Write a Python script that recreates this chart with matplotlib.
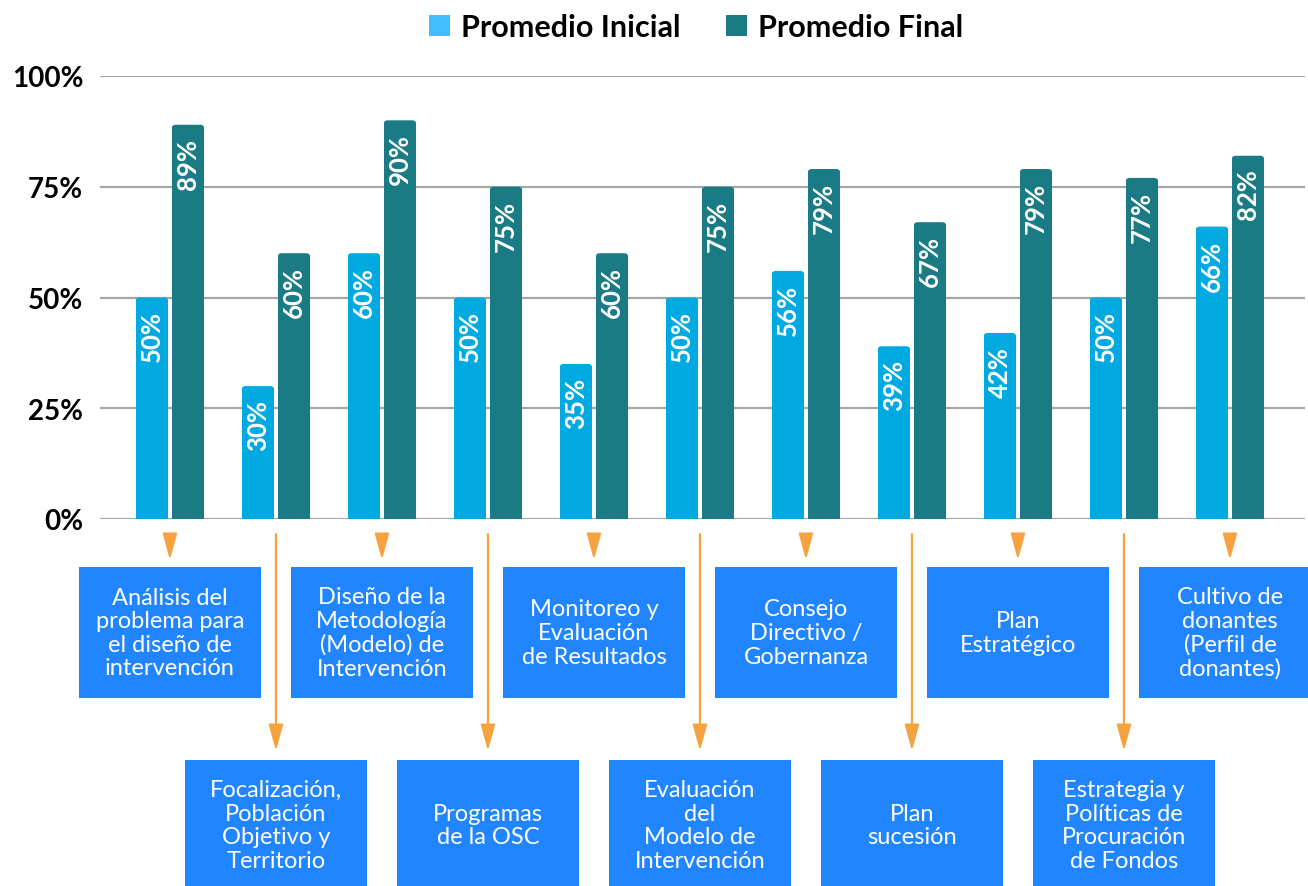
import matplotlib
matplotlib.use("Agg")
import matplotlib.pyplot as plt
from matplotlib.patches import Patch, Rectangle, FancyBboxPatch

# ---- data ----
categories = [
    "Análisis del\nproblema para\nel diseño de\nintervención",
    "Focalización,\nPoblación\nObjetivo y\nTerritorio",
    "Diseño de la\nMetodología\n(Modelo) de\nIntervención",
    "Programas\nde la OSC",
    "Monitoreo y\nEvaluación\nde Resultados",
    "Evaluación\ndel\nModelo de\nIntervención",
    "Consejo\nDirectivo /\nGobernanza",
    "Plan\nsucesión",
    "Plan\nEstratégico",
    "Estrategia y\nPolíticas de\nProcuración\nde Fondos",
    "Cultivo de\ndonantes\n(Perfil de\ndonantes)",
]
inicial = [50, 30, 60, 50, 35, 50, 56, 39, 42, 50, 66]
final = [89, 60, 90, 75, 60, 75, 79, 67, 79, 77, 82]
series_names = ["Promedio Inicial", "Promedio Final"]
yticks = [0, 25, 50, 75, 100]

# ---- style ----
C_INI = "#00AAE1"
C_INI_LEG = "#41BCFF"
C_FIN = "#1B7B85"
C_BOX = "#2185FF"
C_ARROW = "#F4A340"
C_GRID = "#A6A6A6"

plt.rcParams['font.family'] = ['Lato', 'DejaVu Sans']

W, H = 1308, 887
fig = plt.figure(figsize=(W / 100, H / 100), dpi=100)
ax = fig.add_axes([100 / W, (H - 520) / H, 1205 / W, 443 / H])

n = len(categories)
xs = list(range(n))
off = 0.17
bw = 0.307

xunit_px = 1205 / (10.708 + 0.66)
yunit_px = 443 / 100.0
aspect = xunit_px / yunit_px


def rounded_bars(positions, values, color):
    bars = ax.bar(positions, values, width=bw, color=color, zorder=2)
    for r in bars:
        x0, w, h = r.get_x(), r.get_width(), r.get_height()
        cap = 6 / yunit_px
        r.set_height(h - cap / 2)
        p = FancyBboxPatch((x0, h - cap), w, cap,
                           boxstyle="round,pad=0,rounding_size=%f" % (4 / xunit_px),
                           mutation_aspect=aspect, facecolor=color,
                           edgecolor='none', zorder=2)
        ax.add_patch(p)
    return bars


rounded_bars([x - off for x in xs], inicial, C_INI)
rounded_bars([x + off for x in xs], final, C_FIN)

for x, v in zip(xs, inicial):
    ax.text(x - off, v - 2.9, f"{v}%", rotation=90, ha='center', va='top',
            color='white', fontsize=18.5, fontweight='bold', zorder=3)
for x, v in zip(xs, final):
    ax.text(x + off, v - 2.9, f"{v}%", rotation=90, ha='center', va='top',
            color='white', fontsize=18.5, fontweight='bold', zorder=3)

ax.set_ylim(0, 100)
ax.set_xlim(-0.66, 10.708)
ax.set_yticks(yticks)
ax.set_yticklabels([f"{v}%" for v in yticks], fontsize=20, fontweight='bold')
ax.set_xticks([])
ax.tick_params(axis='y', length=0, pad=12)
for s in ax.spines.values():
    s.set_visible(False)
ax.grid(axis='y', color=C_GRID, lw=1.6, zorder=0)
ax.set_axisbelow(True)

# ---- boxes & arrows below the chart ----
px = 100 / 443.0  # percent units per pixel (vertical)
box_w = 182 / xunit_px
top_box = (-(568 - 520) * px, -(699 - 520) * px)
bot_box = (-(761 - 520) * px, -(891 - 520) * px)
arrow_start = -(535 - 520) * px
top_arrow_end = -(561 - 520) * px
bot_arrow_end = -(752 - 520) * px

for i, (x, label) in enumerate(zip(xs, categories)):
    if i % 2 == 0:
        yt, yb = top_box
        yend = top_arrow_end
    else:
        yt, yb = bot_box
        yend = bot_arrow_end
    rect = Rectangle((x - box_w / 2, yb), box_w, yt - yb, facecolor=C_BOX,
                     edgecolor='none', clip_on=False, zorder=2)
    ax.add_patch(rect)
    ax.text(x, (yt + yb) / 2, label, ha='center', va='center', color='white',
            fontsize=17, linespacing=1.15, clip_on=False, zorder=3)
    ax.annotate("", xy=(x, yend), xytext=(x, arrow_start),
                arrowprops=dict(arrowstyle='-|>,head_length=0.8,head_width=0.22',
                                color=C_ARROW, lw=1.6, shrinkA=0, shrinkB=0,
                                mutation_scale=20),
                annotation_clip=False)

# ---- legend ----
handles = [Patch(facecolor=C_INI_LEG, edgecolor='none'),
           Patch(facecolor=C_FIN, edgecolor='none')]
leg = fig.legend(handles, series_names, loc='center', ncol=2,
                 bbox_to_anchor=(696 / W, 1 - 28 / H), frameon=False,
                 prop={'weight': 'bold', 'size': 22},
                 handlelength=0.68, handleheight=0.68, handletextpad=0.35,
                 columnspacing=1.5, borderpad=0.2)

fig.savefig("out.png", dpi=100)
